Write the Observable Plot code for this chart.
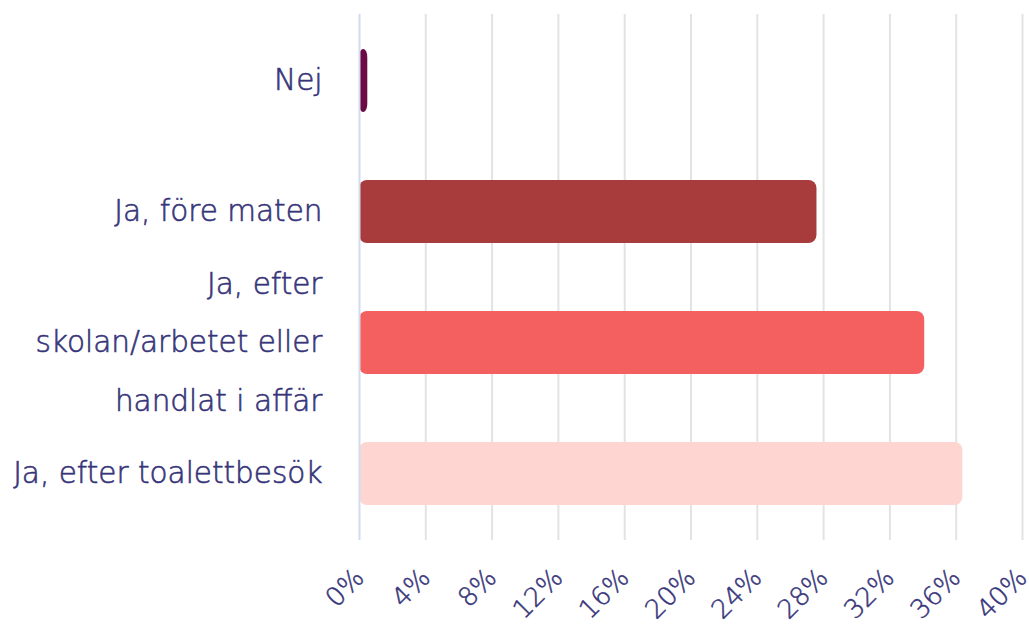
<!DOCTYPE html>
<html>
<head>
<meta charset="utf-8">
<script src="https://cdn.jsdelivr.net/npm/d3@7"></script>
<script src="https://cdn.jsdelivr.net/npm/@observablehq/plot@0.6"></script>
<style>
  html, body { margin: 0; padding: 0; background: #fff; }
  #chart svg { display: block; }
</style>
</head>
<body>
<div id="chart"></div>
<script>
const categories = [
  "Nej",
  "Ja, före maten",
  "Ja, efter skolan/arbetet eller handlat i affär",
  "Ja, efter toalettbesök"
];
const labelLines = [
  "Nej",
  "Ja, före maten",
  "Ja, efter\nskolan/arbetet eller\nhandlat i affär",
  "Ja, efter toalettbesök"
];
const values = [0.5, 27.6, 34.1, 36.4];
const colors = ["#6b0a45", "#a83c3c", "#f46060", "#fed5d0"];
const xTicks = [0, 4, 8, 12, 16, 20, 24, 28, 32, 36, 40];

const data = categories.map((c, i) => ({category: c, value: values[i], color: colors[i]}));
const labelOf = new Map(categories.map((c, i) => [c, labelLines[i]]));

const textColor = "#37357a";
const font = "'DejaVu Sans', sans-serif";
const yFont = 29.5;
const yLine = 1.98;

const chart = Plot.plot({
  width: 1029,
  height: 626,
  marginLeft: 359,
  marginRight: 7,
  marginTop: 14,
  marginBottom: 86,
  style: {fontFamily: font, background: "#fff", fontWeight: 300},
  x: {domain: [0, 40], ticks: xTicks},
  y: {domain: categories, paddingInner: 0.52, paddingOuter: 0.26, align: 0.5},
  marks: [
    Plot.gridX(xTicks.filter(d => d > 0), {stroke: "#e3e3e3", strokeOpacity: 1, strokeWidth: 2}),
    Plot.barX(data, {x: "value", y: "category", fill: "color", rx: 8}),
    Plot.ruleX([0], {stroke: "#d2dcf0", strokeWidth: 2}),
    Plot.axisX({
      ticks: xTicks,
      tickSize: 0,
      tickPadding: 33,
      tickRotate: -45,
      tickFormat: d => d + "%",
      fontSize: 26,
      fill: textColor,
      textStroke: textColor,
      textStrokeWidth: 0.5,
      textStrokeOpacity: 1,
      label: null
    }),
    Plot.axisY({
      tickSize: 0,
      tickPadding: 37,
      tickFormat: d => labelOf.get(d),
      fontSize: yFont,
      lineHeight: yLine,
      dy: -(0.32 * yLine - 0.32) * yFont,
      fill: textColor,
      textStroke: textColor,
      textStrokeWidth: 0.6,
      textStrokeOpacity: 1,
      label: null
    })
  ]
});
document.getElementById("chart").appendChild(chart);
</script>
</body>
</html>
